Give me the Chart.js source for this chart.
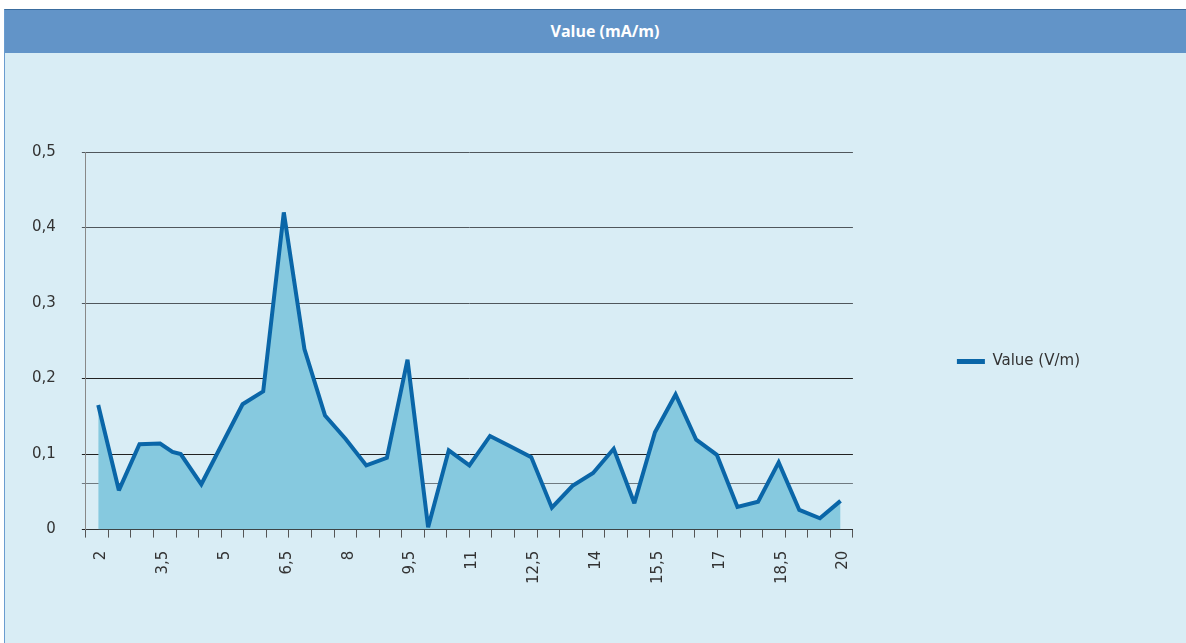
<!DOCTYPE html>
<html>
<head>
<meta charset="utf-8">
<script src="https://cdn.jsdelivr.net/npm/chart.js@4.4.1/dist/chart.umd.min.js"></script>
<style>
  html, body { margin: 0; padding: 0; background: #fff; overflow: hidden; }
  #frame { position: absolute; left: 4px; top: 9px; width: 1200px; height: 640px; background: #d9edf5; border-top: 1px solid #3a6c9e; border-left: 1px solid #6a9ccf; }
  #header { height: 43px; background: #6294c8; color: #fff; text-align: center; font: bold 16px "Open Sans", sans-serif; line-height: 43px; }
  #wrap { position: relative; width: 1181px; height: 590px; }
</style>
</head>
<body>
<div id="frame">
  <div id="header">Value (mA/m)</div>
  <div id="wrap"><canvas id="chart"></canvas></div>
</div>
<script>
// distance (x) and measured value (y)
const distances = [2, 2.5, 3, 3.5, 3.8, 4, 4.5, 5, 5.5, 6, 6.5, 7, 7.5, 8, 8.5, 9, 9.5, 10, 10.5,
  11, 11.5, 12, 12.5, 13, 13.5, 14, 14.5, 15, 15.5, 16, 16.5, 17, 17.5, 18, 18.5, 19, 19.5, 20];
const values = [0.165, 0.052, 0.113, 0.114, 0.103, 0.100, 0.060, 0.113, 0.166, 0.183, 0.420, 0.239, 0.151,
  0.120, 0.085, 0.095, 0.225, 0.003, 0.105, 0.085, 0.124, 0.110, 0.096, 0.029, 0.058, 0.075, 0.107,
  0.035, 0.129, 0.179, 0.119, 0.099, 0.030, 0.037, 0.089, 0.026, 0.015, 0.038];
const xTickLabels = [2, 3.5, 5, 6.5, 8, 9.5, 11, 12.5, 14, 15.5, 17, 18.5, 20];
const yTicks = [0, 0.1, 0.2, 0.3, 0.4, 0.5];
const yExtraLine = 0.061;

const lineColor = '#0a66a8';
const fillColor = '#86c9df';
const tickFont = { family: 'DejaVu Sans', size: 15 };

function fmt(v) {
  return String(Math.round(v * 10) / 10).replace('.', ',');
}

// keep sharp corners from turning into long spikes
const miterPlugin = {
  id: 'miter',
  beforeDatasetsDraw: function(chart) { chart.ctx.miterLimit = 2.5; }
};

// legend sits a bit higher than the middle of the canvas
const legendShift = {
  id: 'legendShift',
  afterLayout: function(chart) {
    if (chart.legend) {
      chart.legend.top -= 13;
      chart.legend.bottom -= 13;
    }
  }
};

var ctx = document.getElementById('chart');

new Chart(ctx, {
  type: 'line',
  data: {
    datasets: [{
      label: 'Value (V/m)',
      data: distances.map((d, i) => ({ x: d, y: values[i] })),
      borderColor: lineColor,
      backgroundColor: fillColor,
      borderWidth: 4,
      fill: 'origin',
      pointRadius: 0,
      tension: 0
    }]
  },
  options: {
    responsive: true,
    maintainAspectRatio: false,
    animation: false,
    layout: { padding: { left: 1, top: 99, right: 96, bottom: 46 } },
    scales: {
      x: {
        type: 'linear',
        min: 1.7,
        max: 20.3,
        afterBuildTicks: function(scale) {
          var ticks = [];
          var n = 34;
          for (var i = 0; i <= n; i++) {
            ticks.push({ value: scale.min + (scale.max - scale.min) * i / n, minor: true });
          }
          xTickLabels.forEach(v => ticks.push({ value: v }));
          ticks.sort((a, b) => a.value - b.value);
          scale.ticks = ticks;
        },
        ticks: {
          autoSkip: false,
          minRotation: 90,
          maxRotation: 90,
          padding: 13,
          labelOffset: 3,
          color: '#333',
          font: tickFont,
          callback: function(value, index, ticks) {
            return ticks[index].minor ? '' : fmt(value);
          }
        },
        grid: {
          drawOnChartArea: false,
          tickLength: 8,
          tickColor: c => (c.tick && c.tick.minor) ? '#555' : 'rgba(0,0,0,0)'
        },
        border: { color: '#333' }
      },
      y: {
        min: 0,
        max: 0.5,
        afterBuildTicks: function(scale) {
          scale.ticks = yTicks.concat([yExtraLine]).sort((a, b) => a - b).map(v => ({ value: v }));
        },
        ticks: {
          padding: 26,
          color: '#333',
          font: tickFont,
          callback: v => v === yExtraLine ? '' : fmt(v)
        },
        grid: {
          tickLength: 4,
          color: c => {
            var v = c.tick ? c.tick.value : 0;
            if (v === yExtraLine) return '#6f7a80';
            return v >= 0.3 ? '#50575c' : '#222';
          }
        },
        border: { color: '#888' }
      }
    },
    plugins: {
      legend: {
        position: 'right',
        maxWidth: 320,
        labels: {
          boxWidth: 28,
          boxHeight: 5,
          padding: 104,
          color: '#333',
          font: tickFont,
          generateLabels: function(chart) {
            return Chart.defaults.plugins.legend.labels.generateLabels(chart).map(function(l) {
              l.fillStyle = lineColor;
              l.lineWidth = 0;
              return l;
            });
          }
        }
      },
      tooltip: { enabled: false }
    }
  },
  plugins: [miterPlugin, legendShift]
});
</script>
</body>
</html>
